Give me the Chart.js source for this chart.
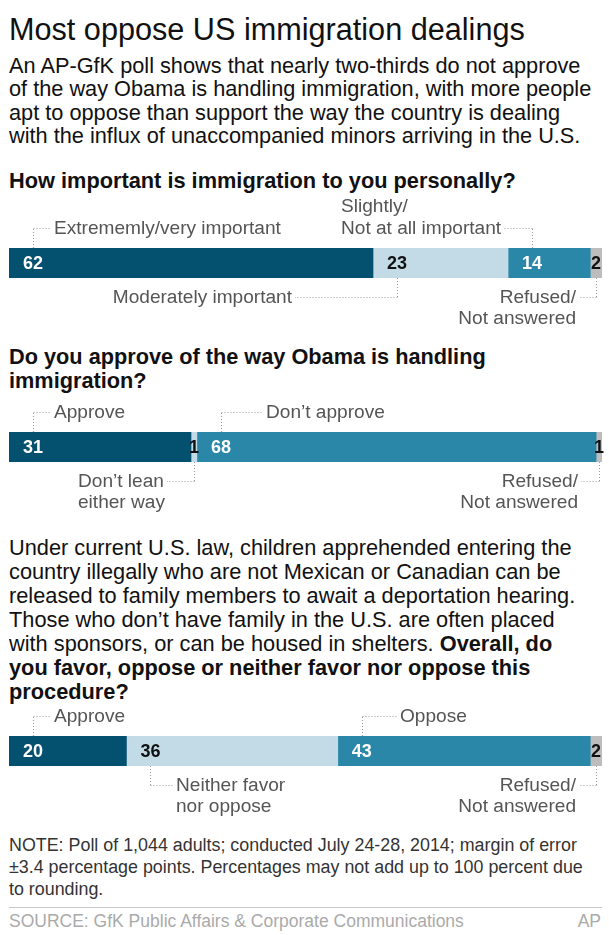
<!DOCTYPE html>
<html><head><meta charset="utf-8">
<script src="https://cdn.jsdelivr.net/npm/chart.js@4"></script>
<style>
html,body{margin:0;padding:0;background:#fff;}
body{width:609px;height:935px;position:relative;overflow:hidden;font-family:"Liberation Sans",Arial,sans-serif;}
.t{position:absolute;white-space:nowrap;line-height:1;}
canvas{position:absolute;left:0;}
.rule{position:absolute;left:9px;width:593px;top:907px;height:1px;background:#c8c8c8;}
</style></head><body>
<div id="texts"></div>
<div class="rule"></div>
<canvas id="c1" width="609" height="145" style="top:188px"></canvas>
<canvas id="c2" width="609" height="145" style="top:372px"></canvas>
<canvas id="c3" width="609" height="145" style="top:676px"></canvas>
<script>
// ---- data ----
const q1Categories = ['Extrememly/very important', 'Moderately important', 'Slightly/Not at all important', 'Refused/Not answered'];
const q1Values = [62, 23, 14, 2];
const q1Labels = [['Extrememly/very important'], ['Moderately important'], ['Slightly/', 'Not at all important'], ['Refused/', 'Not answered']];

const q2Categories = ['Approve', 'Don’t lean either way', 'Don’t approve', 'Refused/Not answered'];
const q2Values = [31, 1, 68, 1];
const q2Labels = [['Approve'], ['Don’t lean', 'either way'], ['Don’t approve'], ['Refused/', 'Not answered']];

const q3Categories = ['Approve', 'Neither favor nor oppose', 'Oppose', 'Refused/Not answered'];
const q3Values = [20, 36, 43, 2];
const q3Labels = [['Approve'], ['Neither favor', 'nor oppose'], ['Oppose'], ['Refused/', 'Not answered']];

// ---- styles ----
const FONT = '"Liberation Sans", Arial, sans-serif';
const segColors = ['#04506f', '#c3dbe7', '#2a87a8', '#bdbdbd'];
const numColors = ['#ffffff', '#111111', '#ffffff', '#111111'];
const labelColor = '#555555';
const leaderColor = '#9a9a9a';

function measure(txt, weight) {
  const c = document.createElement('canvas').getContext('2d');
  c.font = `${weight} 100px ${FONT}`;
  return c.measureText(txt).width / 100;
}
function fit(txt, weight, w) { return w / measure(txt, weight); }

// ---- text layout ----
const sTitle = fit('Most oppose US immigration dealings', 'normal', 516);
const sSub = fit('An AP-GfK poll shows that nearly two-thirds do not approve', 'normal', 573);
const sQ1 = fit('How important is immigration to you personally?', 'bold', 507);
const sQ2 = fit('Do you approve of the way Obama is handling', 'bold', 477);
const sPar = fit('Under current U.S. law, children apprehended entering the', 'normal', 563);
const sNote = fit('NOTE: Poll of 1,044 adults; conducted July 24-28, 2014; margin of error', 'normal', 568);
const sSrc = fit('SOURCE: GfK Public Affairs & Corporate Communications', 'normal', 456);
const sLab = fit('Extrememly/very important', 'normal', 227);
const sNum = 18;

const textLines = [
  {t: 'Most oppose US immigration dealings', b: 40, s: sTitle, c: '#111'},
  {t: 'An AP-GfK poll shows that nearly two-thirds do not approve', b: 73, s: sSub, c: '#111'},
  {t: 'of the way Obama is handling immigration, with more people', b: 96, s: sSub, c: '#111'},
  {t: 'apt to oppose than support the way the country is dealing', b: 120, s: sSub, c: '#111'},
  {t: 'with the influx of unaccompanied minors arriving in the U.S.', b: 143, s: sSub, c: '#111'},
  {t: 'How important is immigration to you personally?', b: 188, s: sQ1, c: '#111', w: 'bold'},
  {t: 'Do you approve of the way Obama is handling', b: 364, s: sQ2, c: '#111', w: 'bold'},
  {t: 'immigration?', b: 388, s: sQ2, c: '#111', w: 'bold'},
  {t: 'Under current U.S. law, children apprehended entering the', b: 555, s: sPar, c: '#111'},
  {t: 'country illegally who are not Mexican or Canadian can be', b: 579, s: sPar, c: '#111'},
  {t: 'released to family members to await a deportation hearing.', b: 603, s: sPar, c: '#111'},
  {t: 'Those who don’t have family in the U.S. are often placed', b: 627, s: sPar, c: '#111'},
  {t: 'with sponsors, or can be housed in shelters. <b>Overall, do</b>', b: 651, s: sPar, c: '#111'},
  {t: '<b>you favor, oppose or neither favor nor oppose this</b>', b: 675, s: sPar, c: '#111'},
  {t: '<b>procedure?</b>', b: 699, s: sPar, c: '#111'},
  {t: 'NOTE: Poll of 1,044 adults; conducted July 24-28, 2014; margin of error', b: 852, s: sNote, c: '#333'},
  {t: '±3.4 percentage points. Percentages may not add up to 100 percent due', b: 874, s: sNote, c: '#333'},
  {t: 'to rounding.', b: 896, s: sNote, c: '#333'},
  {t: 'SOURCE: GfK Public Affairs &amp; Corporate Communications', b: 928, s: sSrc, c: '#aaa'},
  {t: 'AP', b: 928, s: sSrc, c: '#aaa', r: 8}
];
const host = document.getElementById('texts');
textLines.forEach(l => {
  const d = document.createElement('div');
  d.className = 't';
  d.innerHTML = l.t;
  d.style.fontSize = l.s + 'px';
  d.style.fontWeight = l.w || 'normal';
  d.style.color = l.c;
  d.style.top = (l.b - 0.8465 * l.s) + 'px';
  if (l.r !== undefined) d.style.right = l.r + 'px'; else d.style.left = '9px';
  host.appendChild(d);
});

// ---- annotation placement (per segment) ----
const q1Place = [
  {side: 'above', align: 'left', dx: 21},
  {side: 'below', align: 'right', dx: -105},
  {side: 'above', align: 'left', dx: -191},
  {side: 'below', align: 'right', dx: -20}
];
const q2Place = [
  {side: 'above', align: 'left', dx: 21},
  {side: 'below', align: 'left', dx: -116},
  {side: 'above', align: 'left', dx: 45},
  {side: 'below', align: 'right', dx: -21}
];
const q3Place = [
  {side: 'above', align: 'left', dx: 21},
  {side: 'below', align: 'left', dx: 26},
  {side: 'above', align: 'left', dx: 38},
  {side: 'below', align: 'right', dx: -20}
];

const annot = {
  id: 'annot',
  afterDatasetsDraw(chart, args, opts) {
    const {ctx, chartArea: {top, bottom}, scales: {x}} = chart;
    let cum = 0;
    chart.data.datasets.forEach((ds, i) => {
      const v = ds.data[0];
      const x0 = x.getPixelForValue(cum), x1 = x.getPixelForValue(cum + v);
      cum += v;
      ctx.save();
      ctx.font = `bold ${sNum}px ${FONT}`;
      ctx.textBaseline = 'alphabetic';
      ctx.textAlign = 'left';
      const txt = String(v);
      const w = ctx.measureText(txt).width;
      const tx = (x1 - x0 > 30) ? x0 + 14 : (x0 + x1) / 2 - w / 2;
      const cx = Math.round(tx + w / 2);
      ctx.fillStyle = numColors[i];
      ctx.fillText(txt, tx, (top + bottom) / 2 + sNum * 0.36);

      // category label with dotted leader
      const p = opts.place[i], lines = opts.labels[i];
      ctx.font = `${sLab}px ${FONT}`;
      ctx.fillStyle = labelColor;
      ctx.textAlign = p.align;
      const ax = cx + p.dx;
      let connB, connText;
      if (p.side === 'above') {
        connB = top - 14;
        lines.forEach((ln, k) => ctx.fillText(ln, ax, connB - (lines.length - 1 - k) * 22));
        connText = lines[lines.length - 1];
      } else {
        connB = bottom + 25;
        lines.forEach((ln, k) => ctx.fillText(ln, ax, connB + k * 21));
        connText = lines[0];
      }
      const tw = ctx.measureText(connText).width;
      let left = p.align === 'left' ? ax : ax - tw;
      let right = left + tw;
      const ly = Math.round(connB - 6) + 0.5;
      const edge = (left > cx) ? left - 3 : right + 3;
      ctx.strokeStyle = leaderColor;
      ctx.lineWidth = 1;
      ctx.setLineDash([1, 2]);
      ctx.beginPath();
      ctx.moveTo(cx + 0.5, p.side === 'above' ? top : bottom);
      ctx.lineTo(cx + 0.5, ly);
      ctx.moveTo(cx + 0.5, ly);
      ctx.lineTo(edge, ly);
      ctx.stroke();
      ctx.restore();
    });
  }
};

function makeChart(id, cats, vals, labels, place) {
  const total = vals.reduce((a, b) => a + b, 0);
  return new Chart(document.getElementById(id), {
    type: 'bar',
    data: {
      labels: [''],
      datasets: vals.map((v, i) => ({
        label: cats[i], data: [v], backgroundColor: segColors[i],
        borderWidth: 0, barPercentage: 1, categoryPercentage: 1
      }))
    },
    options: {
      indexAxis: 'y', responsive: false, animation: false, events: [],
      layout: {padding: {left: 9, right: 7, top: 60, bottom: 55}},
      plugins: {legend: {display: false}, tooltip: {enabled: false}, annot: {labels, place}},
      scales: {
        x: {stacked: true, min: 0, max: total, display: false},
        y: {stacked: true, display: false}
      }
    },
    plugins: [annot]
  });
}

makeChart('c1', q1Categories, q1Values, q1Labels, q1Place);
makeChart('c2', q2Categories, q2Values, q2Labels, q2Place);
makeChart('c3', q3Categories, q3Values, q3Labels, q3Place);
</script>
</body></html>
